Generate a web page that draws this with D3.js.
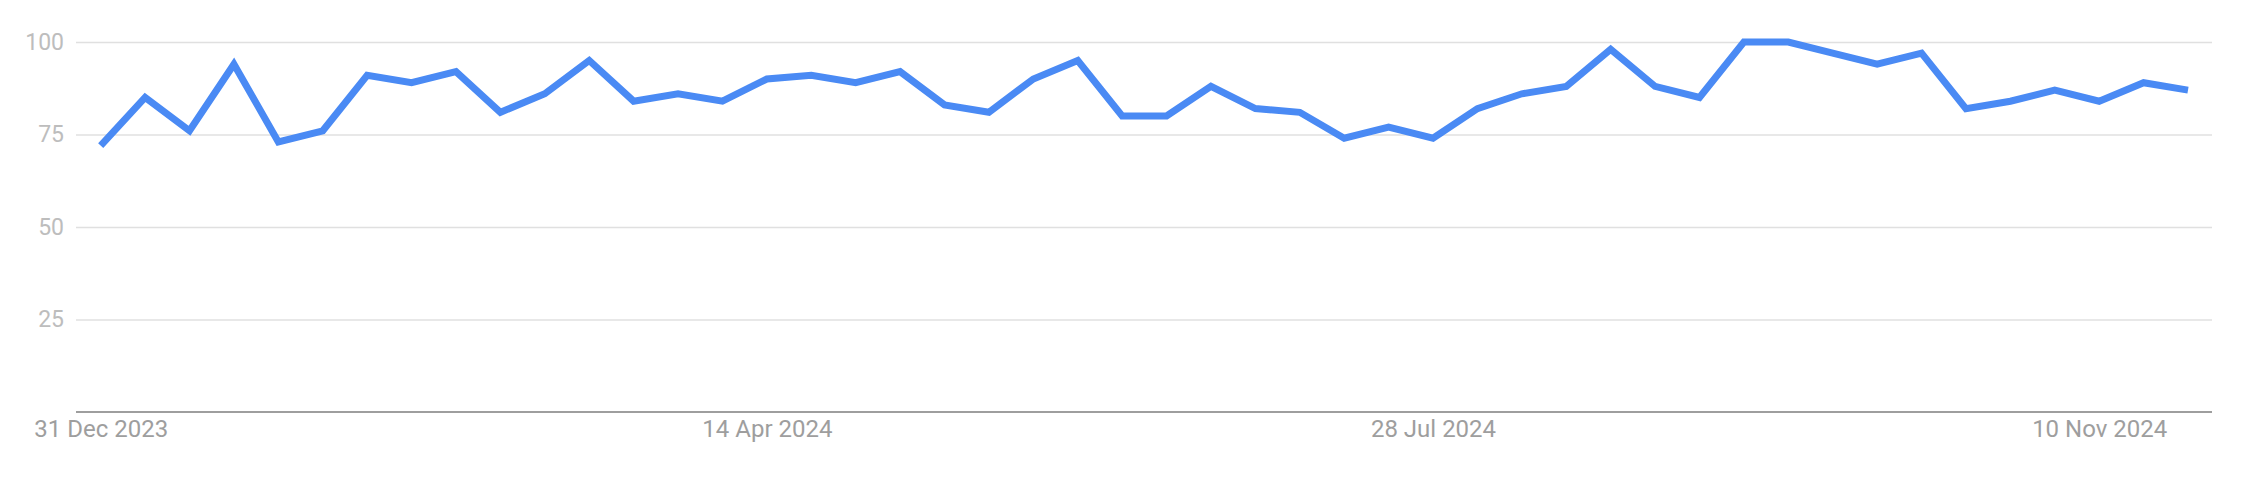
<!DOCTYPE html>
<html>
<head>
<meta charset="utf-8">
<script src="https://cdn.jsdelivr.net/npm/d3@7"></script>
<style>
  body { margin: 0; background: #fff; }
  .chart text { font-family: Roboto, "Noto Sans", sans-serif; }
</style>
</head>
<body>
<div class="chart"></div>
<script>
// Weekly interest values, first week starting 31 Dec 2023
var startDate = "2023-12-31";
var values = [
  72, 85, 76, 94, 73, 76, 91, 89, 92, 81,
  86, 95, 84, 86, 84, 90, 91, 89, 92, 83,
  81, 90, 95, 80, 80, 88, 82, 81, 74, 77,
  74, 82, 86, 88, 98, 88, 85, 100, 100, 97,
  94, 97, 82, 84, 87, 84, 89, 87
];
var yTicks = [25, 50, 75, 100];
var xTickLabels = ["2023-12-31", "2024-04-14", "2024-07-28", "2024-11-10"];

var svgWidth = 2256;
var svgHeight = 480;

// plot area edges
var plotLeft = 76;
var plotRight = 2212;
var plotTop = 42;
var plotBottom = 412;

var parseDate = d3.timeParse("%Y-%m-%d");
var start = parseDate(startDate);

// one date per week
var data = values.map(function (v, i) {
  return { date: d3.timeDay.offset(start, i * 7), value: v };
});

var svg = d3.select(".chart")
  .append("svg")
  .attr("width", svgWidth)
  .attr("height", svgHeight);

var xScale = d3.scaleTime()
  .domain(d3.extent(data, d => d.date))
  .range([100.7, 2188]);

var yScale = d3.scaleLinear()
  .domain([0, 100])
  .range([plotBottom, plotTop]);

// horizontal grid lines + y labels
var yAxis = d3.axisLeft(yScale)
  .tickValues(yTicks)
  .tickSize(-(plotRight - plotLeft))
  .tickPadding(12);

var yAxisGroup = svg.append("g")
  .attr("transform", `translate(${plotLeft}, 0)`)
  .call(yAxis);

yAxisGroup.select(".domain").remove();
yAxisGroup.selectAll("line")
  .attr("stroke", "#e0e0e0")
  .attr("stroke-width", 1.6);
yAxisGroup.selectAll("text")
  .attr("fill", "#bdbdbd")
  .attr("font-size", 23);

// bottom axis
var xAxis = d3.axisBottom(xScale)
  .tickValues(xTickLabels.map(parseDate))
  .tickFormat(d3.timeFormat("%-d %b %Y"))
  .tickSize(0)
  .tickPadding(8);

var xAxisGroup = svg.append("g")
  .attr("transform", `translate(0, ${plotBottom})`)
  .call(xAxis);

xAxisGroup.select(".domain").remove();
xAxisGroup.selectAll("text")
  .attr("fill", "#9e9e9e")
  .attr("font-size", 24);

svg.append("line")
  .attr("x1", plotLeft)
  .attr("x2", plotRight)
  .attr("y1", plotBottom)
  .attr("y2", plotBottom)
  .attr("stroke", "#9e9e9e")
  .attr("stroke-width", 2);

// the trend line
var line = d3.line()
  .x(d => xScale(d.date))
  .y(d => yScale(d.value));

svg.append("path")
  .datum(data)
  .attr("fill", "none")
  .attr("stroke", "#4a8af4")
  .attr("stroke-width", 7)
  .attr("d", line);
</script>
</body>
</html>
